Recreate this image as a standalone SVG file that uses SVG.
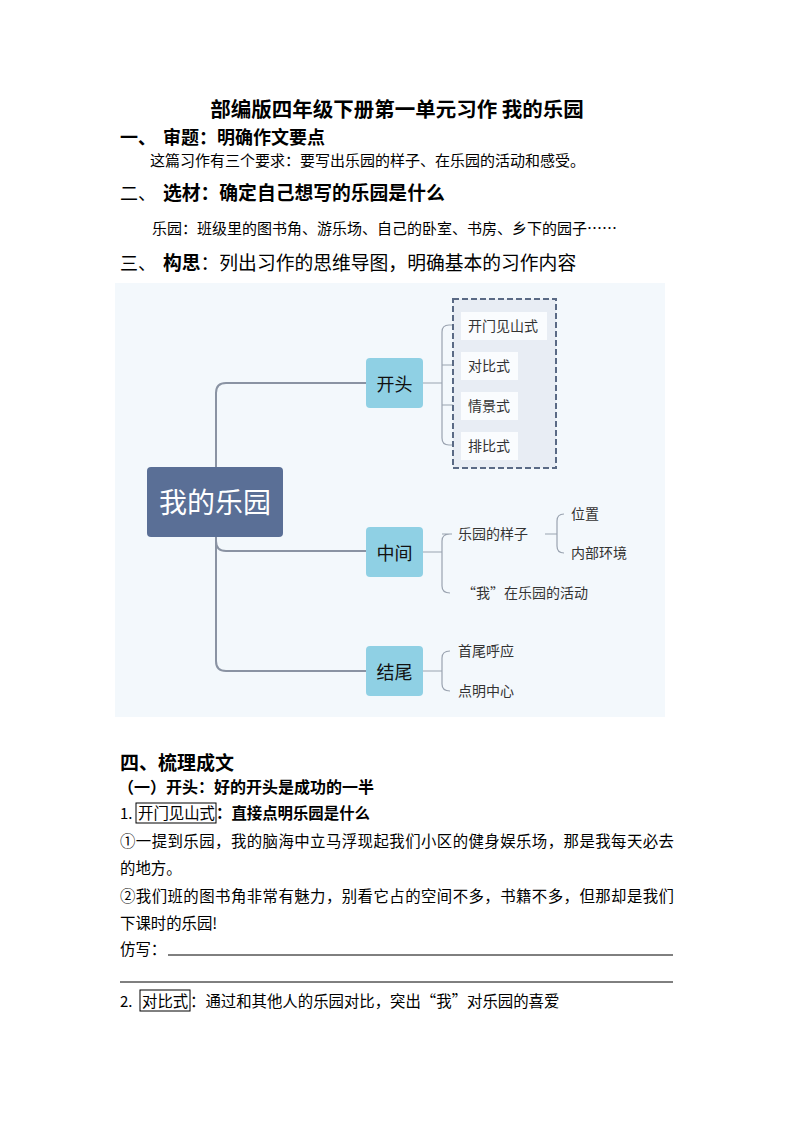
<svg xmlns="http://www.w3.org/2000/svg" width="794" height="1123" viewBox="0 0 794 1123">
<style>
.t{font-family:"Noto Sans CJK SC","Liberation Serif",serif;fill:#000}
.b{font-weight:bold}
.m{font-family:"Noto Sans CJK SC","Noto Sans",sans-serif;fill:#333}
.ln{fill:none;stroke:#8a93a3;stroke-width:2}
.sl{fill:none;stroke:#9aa3b0;stroke-width:1.2}
.br{fill:#8fd0e4}
.it{fill:#fafcfe}
</style>
<rect width="794" height="1123" fill="#fff"/>
<text class="t b" x="397" y="117" font-size="20.5" text-anchor="middle">部编版四年级下册第一单元习作 我的乐园</text>
<text class="t b" x="120" y="144" font-size="18">一、</text><text class="t b" x="163" y="144" font-size="18">审题：明确作文要点</text>
<text class="t" x="150" y="166" font-size="15">这篇习作有三个要求：要写出乐园的样子、在乐园的活动和感受。</text>
<text class="t" x="120" y="200" font-size="18">二、</text><text class="t b" x="163" y="200" font-size="18.8">选材：确定自己想写的乐园是什么</text>
<text class="t" x="152" y="234" font-size="15">乐园：班级里的图书角、游乐场、自己的卧室、书房、乡下的园子……</text>
<text class="t" x="120" y="270" font-size="18">三、</text><text class="t" x="163" y="270" font-size="18.8"><tspan class="b">构思</tspan>：列出习作的思维导图，明确基本的习作内容</text>

<rect x="115" y="283" width="550" height="434" fill="#f3f8fc"/>
<g id="connectors">
<path class="ln" d="M216 467 V393 Q216 383 226 383 H366"/>
<path class="ln" d="M216 537 V541 Q216 551 226 551 H366"/>
<path class="ln" d="M216 537 V661 Q216 671 226 671 H366"/>
<path class="sl" d="M423 383 H442 M449 325 Q442 325 442 332 V438 Q442 445 449 445 H461 M442 365 H461 M442 405 H461 M449 325 H461"/>
<path class="sl" d="M423 552 H442 M450 534 Q442 534 442 541 V586 Q442 593 450 593 M442 534 H452"/>
<path class="sl" d="M545 534 H557 M564 514 Q557 514 557 521 V546 Q557 553 564 553"/>
<path class="sl" d="M423 671 H442 M450 651 Q442 651 442 658 V684 Q442 691 450 691"/>
</g>
<g id="center"><rect x="147" y="467" width="136" height="70" rx="4" fill="#5a6f96"/><text class="m" x="215" y="513" font-size="28" text-anchor="middle" style="fill:#fff">我的乐园</text></g>
<g id="kaitou"><rect class="br" x="366" y="358" width="57" height="50" rx="4"/><text class="m" x="394.5" y="391" font-size="18" text-anchor="middle" style="fill:#111">开头</text></g>
<g id="zhongjian"><rect class="br" x="366" y="527" width="57" height="50" rx="4"/><text class="m" x="394.5" y="560" font-size="18" text-anchor="middle" style="fill:#111">中间</text></g>
<g id="jiewei"><rect class="br" x="366" y="646" width="57" height="50" rx="4"/><text class="m" x="394.5" y="679" font-size="18" text-anchor="middle" style="fill:#111">结尾</text></g>
<g id="group"><rect x="453" y="299" width="103" height="169" fill="#e8edf4" stroke="#5a6a85" stroke-width="2" stroke-dasharray="6,3"/></g>
<g id="n1"><rect class="it" x="461" y="312" width="86" height="28"/><text class="m" x="468" y="331" font-size="14">开门见山式</text></g>
<g id="n2"><rect class="it" x="461" y="352" width="57" height="28"/><text class="m" x="468" y="371" font-size="14">对比式</text></g>
<g id="n3"><rect class="it" x="461" y="392" width="57" height="28"/><text class="m" x="468" y="411" font-size="14">情景式</text></g>
<g id="n4"><rect class="it" x="461" y="432" width="57" height="28"/><text class="m" x="468" y="451" font-size="14">排比式</text></g>
<g id="n5"><text class="m" x="458" y="539" font-size="14">乐园的样子</text></g>
<g id="n6"><text class="m" x="571" y="519" font-size="14">位置</text></g>
<g id="n7"><text class="m" x="571" y="558" font-size="14">内部环境</text></g>
<g id="n8"><text class="m" x="462" y="598" font-size="14">“我”在乐园的活动</text></g>
<g id="n9"><text class="m" x="458" y="656" font-size="14">首尾呼应</text></g>
<g id="n10"><text class="m" x="458" y="696" font-size="14">点明中心</text></g>

<text class="t b" x="120" y="770" font-size="19">四、梳理成文</text>
<text class="t b" x="118" y="793" font-size="16">（一）开头：好的开头是成功的一半</text>
<text class="t" x="120" y="819" font-size="15">1.</text>
<rect x="136" y="803" width="80" height="20" fill="none" stroke="#000" stroke-width="1"/>
<text class="t" x="138" y="819" font-size="15.4">开门见山式</text>
<text class="t b" x="216" y="819" font-size="15.4">：直接点明乐园是什么</text>
<text class="t" x="120" y="847" font-size="15.4" textLength="554">①一提到乐园，我的脑海中立马浮现起我们小区的健身娱乐场，那是我每天必去</text>
<text class="t" x="120" y="874" font-size="15.4">的地方。</text>
<text class="t" x="120" y="902" font-size="15.4" textLength="554">②我们班的图书角非常有魅力，别看它占的空间不多，书籍不多，但那却是我们</text>
<text class="t" x="120" y="929" font-size="15.4">下课时的乐园!</text>
<text class="t" x="120" y="955" font-size="15.4">仿写：</text>
<line x1="168" y1="955" x2="673" y2="955" stroke="#000" stroke-width="1"/>
<line x1="120" y1="982" x2="673" y2="982" stroke="#000" stroke-width="1"/>
<text class="t" x="120" y="1007" font-size="15">2.</text>
<rect x="140" y="990" width="50" height="21" fill="none" stroke="#000" stroke-width="1"/>
<text class="t" x="142" y="1007" font-size="15.4">对比式</text>
<text class="t" x="190" y="1007" font-size="15.4">：通过和其他人的乐园对比，突出“我”对乐园的喜爱</text>
</svg>
